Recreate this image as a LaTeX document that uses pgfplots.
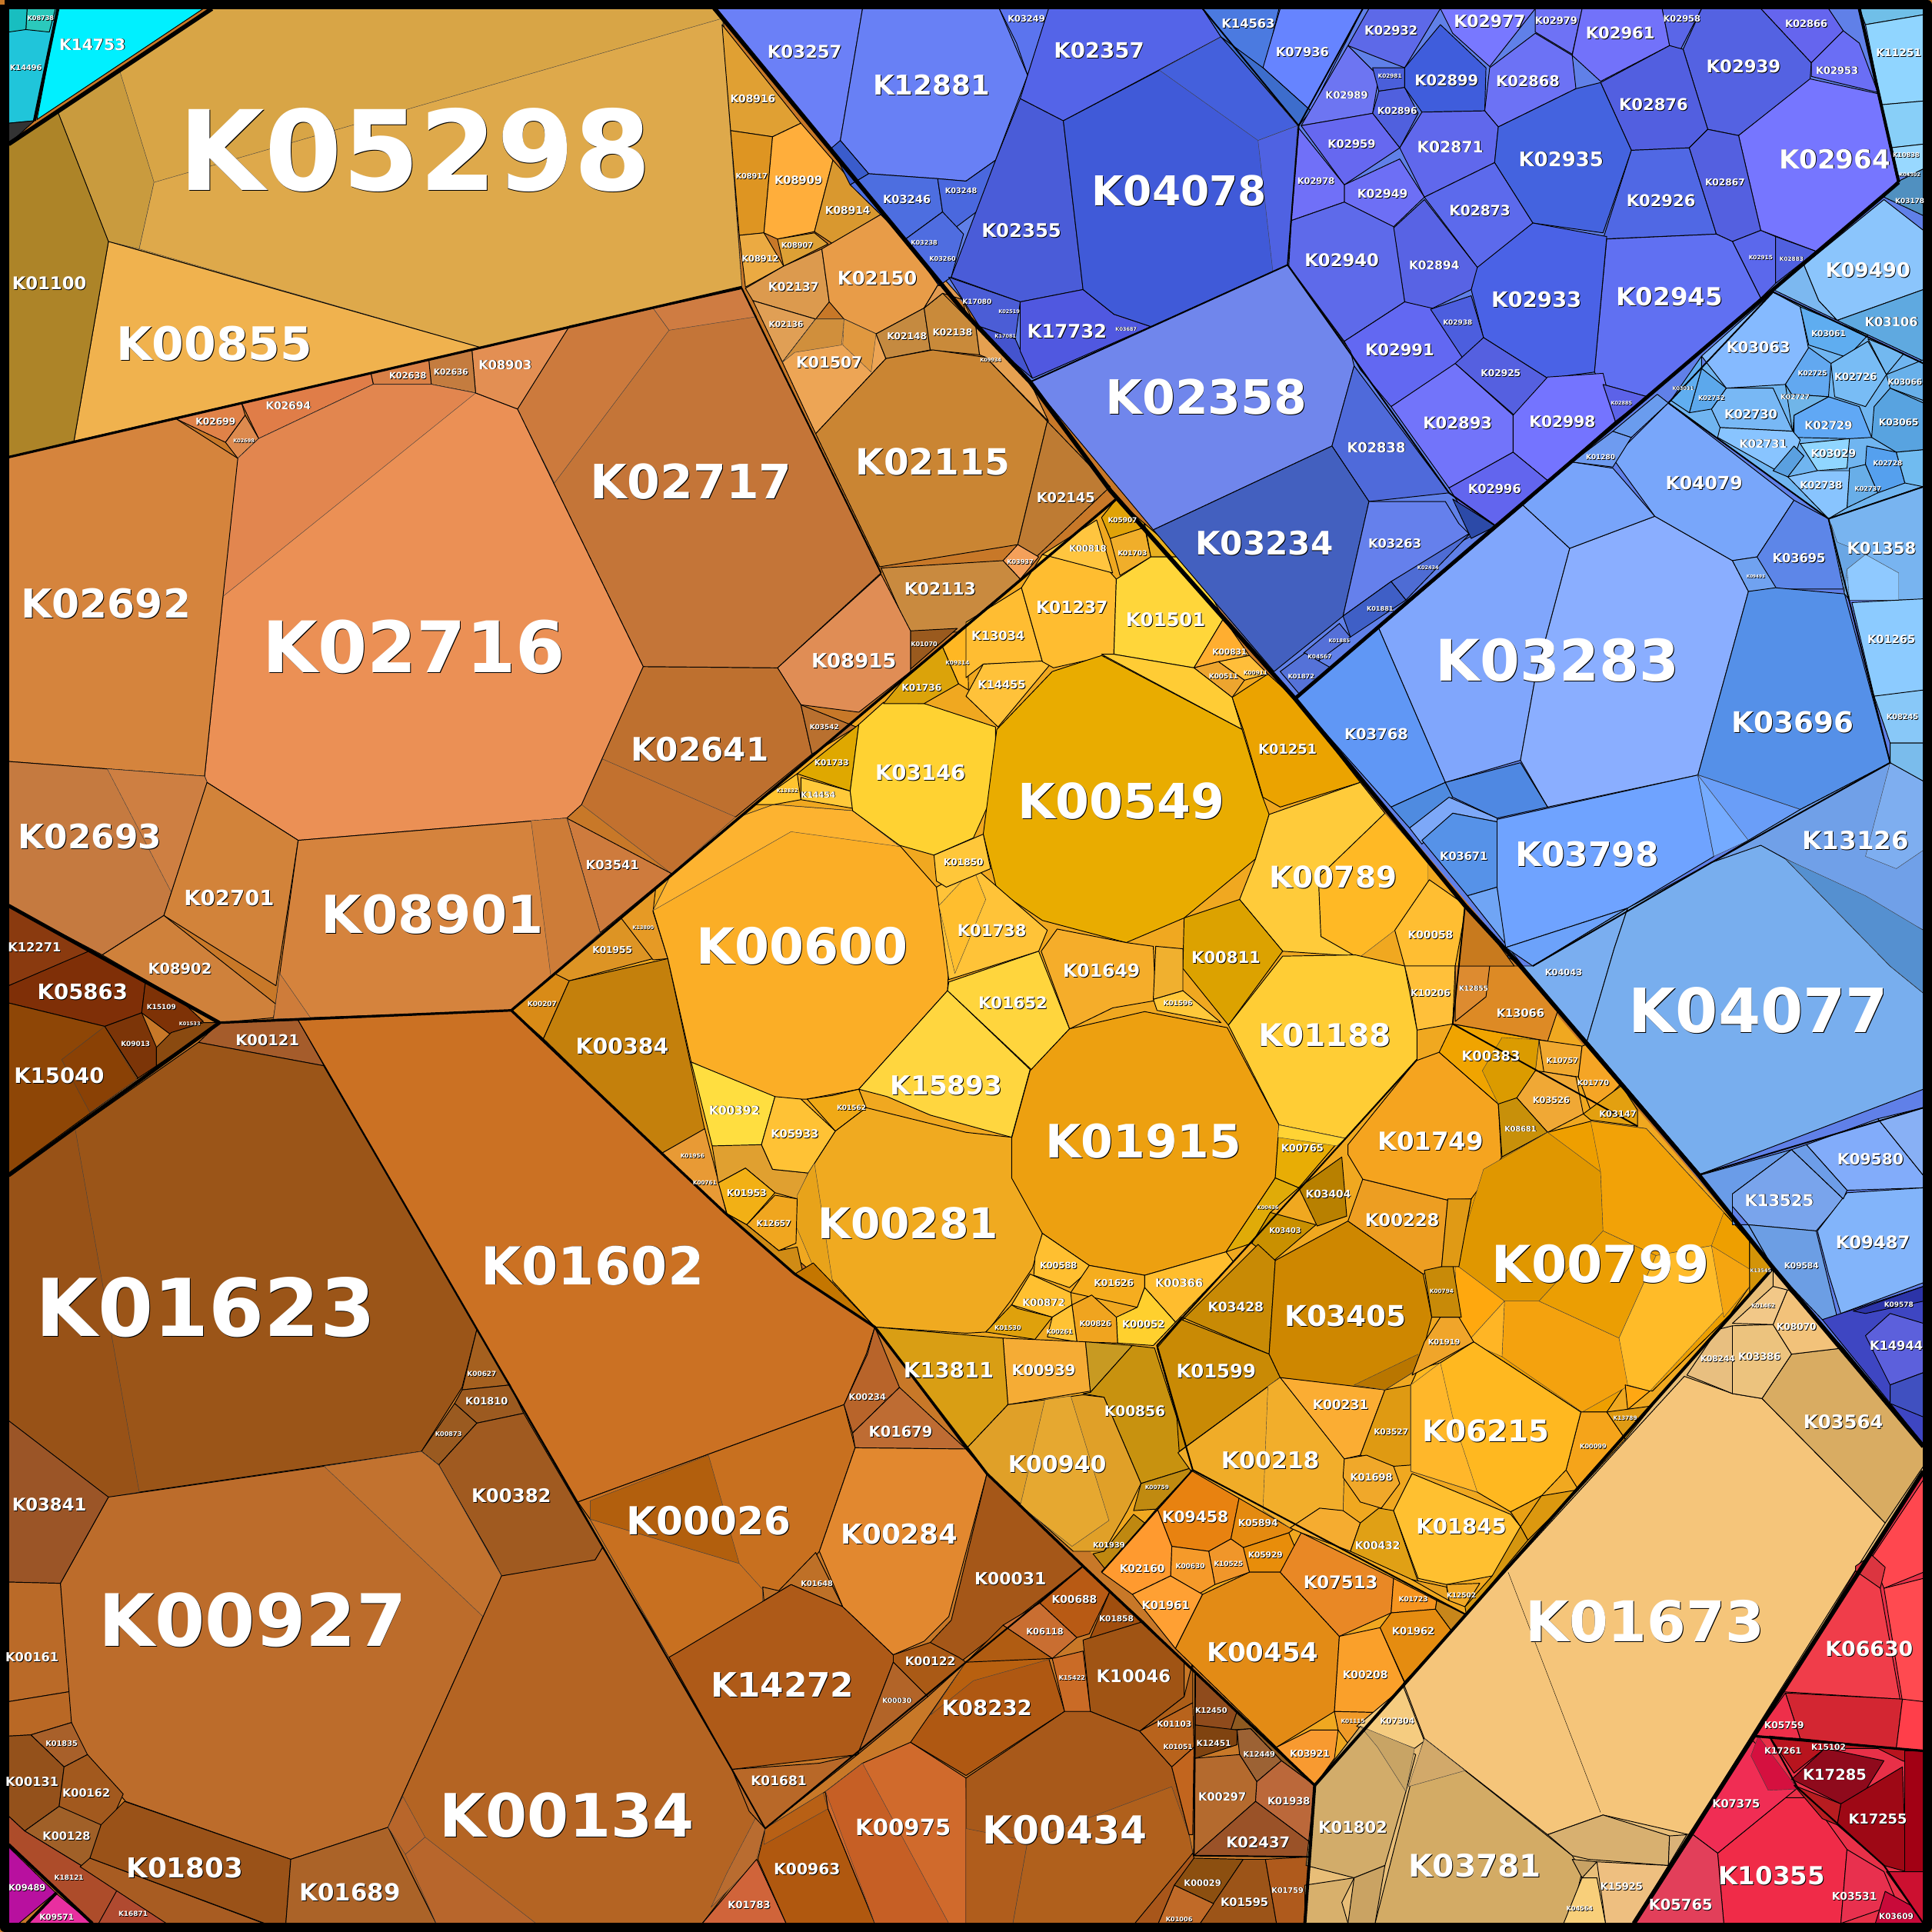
\documentclass[border=0pt]{standalone}
\usepackage{fontspec}
\setmainfont{DejaVu Sans}
\usepackage{pgfplots}
\pgfplotsset{compat=1.18}
\newcount\cn
\newcommand\C[2]{\global\advance\cn by 1\relax\xglobal\definecolor{c\the\cn}{HTML}{#1}\edef\x{\noexpand\addplot[fill=c\the\cn,draw=black,line width=.6pt,line join=round,mark=none]}\x coordinates {#2} -- cycle;}
\newcommand\Sb[2]{\global\advance\cn by 1\relax\xglobal\definecolor{c\the\cn}{HTML}{#1}\edef\x{\noexpand\addplot[fill=c\the\cn,draw=black!75,line width=.25pt,line join=round,mark=none]}\x coordinates {#2} -- cycle;}
\newcommand\B[2]{\global\advance\cn by 1\relax\xglobal\definecolor{c\the\cn}{HTML}{#1}\edef\x{\noexpand\addplot[fill=c\the\cn,draw=none,mark=none]}\x coordinates {#2} -- cycle;}
\newcommand\Ln[2]{\addplot[draw=black,line width=#1,line join=round,mark=none] coordinates {#2};}
\newcommand\T[4]{\node[black,inner sep=0pt,font=\fontsize{\fpeval{#3*1.012}}{#3}\selectfont\bfseries,xshift=.55pt,yshift=-.55pt] at (axis cs:#1,#2) {#4};\node[white,inner sep=0pt,font=\fontsize{\fpeval{#3*1.012}}{#3}\selectfont\bfseries] at (axis cs:#1,#2) {#4};}
\begin{document}
\begin{tikzpicture}
\begin{axis}[scale only axis,width=1568pt,height=1568pt,xmin=0,xmax=1568,ymin=0,ymax=1568,y dir=reverse,hide axis,clip=true]
% bases
\B{C87828}{(0,0) (1568,0) (1568,1568) (0,1568)}
\B{6080E8}{(580,7) (1561,7) (1561,1174) (1439,1029) (1234,784) (1051,567) (836,310)}
\B{F0A820}{(415,820) (906,405) (1439,1029) (1067,1449) (710,1077)}
\B{E8BE78}{(1439,1029) (1561,1174) (1561,1194) (1326,1561) (1059,1561) (1067,1449)}
\B{E83048}{(1561,1194) (1561,1561) (1326,1561)}
% top left
\C{D8A546}{(172,7) (578,7) (587,15) (602,233) (390,282) (88,196) (47,91)}
\Sb{C99B3E}{(47,91) (97,57) (125,148) (113,202) (88,196)}
\Sb{DEA94B}{(125,148) (586,15) (602,233) (390,282) (113,202)}
\C{F0B24E}{(88,196) (390,282) (60,358)}
\C{AD8428}{(7,117) (47,91) (88,196) (60,358) (7,371)}
\C{00F0FF}{(47,7) (165,7) (30,97)}
\C{20C5DA}{(7,7) (47,7) (28,98) (7,100)}
\C{2BC9BC}{(22,7) (45,7) (40,26) (21,24)}
\C{18BEC0}{(7,7) (22,7) (21,24) (7,26)}
\C{333333}{(7,100) (28,98) (7,117)}
% K089 strip
\C{E0A033}{(586,20) (593,106) (627,111) (650,100)}
\C{DE9522}{(593,106) (627,111) (620,189) (600,191)}
\C{FFAE3B}{(627,111) (650,100) (676,130) (661,188) (631,194) (620,189)}
\C{D9982F}{(676,130) (715,174) (676,198) (661,188)}
\C{EBAA42}{(600,191) (620,189) (636,216) (605,233)}
\C{DDA035}{(631,194) (661,189) (672,198) (636,216)}
\C{DC9A4E}{(605,234) (636,216) (667,202) (673,245) (662,259) (611,244)}
\C{E89C48}{(667,202) (715,174) (765,225) (750,250) (711,271) (685,259) (673,245)}
\C{E09F55}{(611,244) (662,259) (635,294)}
\C{EDA555}{(635,294) (662,259) (685,259) (711,271) (719,291) (662,352)}
\Sb{D08F3C}{(635,294) (662,259) (685,259) (683,280) (645,286)}
\Sb{E0983F}{(685,259) (711,271) (707,302) (684,280)}
\C{C58A40}{(711,271) (750,250) (755,284) (719,291)}
\C{C98A3A}{(750,250) (765,238) (792,265) (795,288) (755,284)}
\C{E09A50}{(750,250) (765,225) (781,243) (765,238)}
\C{E5A050}{(781,243) (784,255) (836,310) (851,342) (800,290) (795,288) (792,265)}
\C{CA8533}{(662,352) (719,291) (757,284) (800,290) (850,342) (826,442) (714,460)}
\C{BE7B33}{(850,342) (826,442) (841,452) (901,395)}
\C{F4A05A}{(814,455) (826,442) (843,452) (828,470)}
\C{C98A3F}{(715,461) (814,455) (828,470) (777,513) (738,513)}
\C{9A5A1E}{(739,512) (777,510) (739,543)}
\C{E08D55}{(715,466) (739,512) (739,545) (697,578) (650,572) (631,542)}
\C{BE702F}{(522,541) (631,542) (650,572) (659,612) (597,663) (472,647)}
\Sb{C2712F}{(489,616) (597,663) (545,709) (472,653)}
\C{B9702F}{(650,572) (695,590) (659,612)}
\C{C47538}{(462,265) (602,234) (715,465) (631,542) (522,541) (420,332)}
\Sb{CC7A3D}{(462,265) (530,250) (543,268) (450,392) (420,332)}
\Sb{CF7C42}{(530,250) (602,234) (614,257) (543,268)}
\C{E38F53}{(383,284) (462,265) (420,332) (386,319)}
\C{C47C3F}{(348,292) (383,284) (386,319) (350,312)}
\C{D98046}{(301,303) (348,292) (350,312) (303,312)}
\C{E07D48}{(196,327) (301,303) (303,312) (210,356)}
\C{E08248}{(143,340) (196,327) (199,337) (183,359)}
\C{DD8A4E}{(199,337) (210,356) (193,372) (183,359)}
\C{EB9055}{(193,372) (210,356) (303,312) (350,312) (386,319) (420,332) (522,541) (472,653) (460,664) (242,682) (168,635) (166,630) (181,484)}
\Sb{E2864F}{(193,372) (210,356) (303,312) (350,312) (386,319) (181,484)}
\C{D5843D}{(7,371) (143,340) (193,372) (181,484) (166,630) (7,618)}
\C{C57A40}{(7,618) (166,630) (168,635) (133,743) (83,775) (7,735)}
\Sb{CE7F42}{(87,624) (166,630) (168,635) (139,724)}
\C{D2833A}{(168,635) (242,682) (224,800) (133,743)}
\C{CF813B}{(83,775) (133,743) (224,815) (222,826) (178,830)}
\C{CE7B3D}{(460,664) (545,709) (487,757)}
\C{D5833D}{(242,682) (460,664) (487,757) (415,820) (222,827)}
\Sb{CD7C38}{(431,666) (460,664) (487,757) (447,792)}
\Sb{CE7C3A}{(222,827) (227,790) (252,826)}
% dark triangle
\C{8A3A0F}{(7,735) (75,772) (7,800)}
\C{7F2F07}{(7,800) (72,772) (118,797) (115,822) (85,833) (7,814)}
\C{8E4606}{(7,814) (85,833) (112,875) (7,952)}
\Sb{8A4105}{(85,833) (111,876) (73,903) (50,860)}
\C{7E3206}{(118,797) (150,815) (165,829) (139,840) (115,822)}
\C{7C3508}{(85,833) (115,822) (127,850) (127,865) (112,875)}
\C{8A4A10}{(127,850) (139,838) (165,830) (178,830) (127,865)}
% big browns
\C{A55C2B}{(161,846) (178,830) (242,828) (263,865)}
\C{CB7123}{(242,828) (415,820) (710,1077) (703,1099) (685,1140) (469,1219)}
\C{9B5518}{(7,954) (161,846) (263,865) (387,1079) (375,1126) (342,1178) (113,1211) (88,1215) (7,1153)}
\Sb{985217}{(7,954) (61,916) (113,1211) (88,1215) (7,1153)}
\C{A5601F}{(387,1079) (414,1124) (375,1128)}
\C{9C5A20}{(375,1128) (414,1124) (425,1147) (387,1155) (369,1139)}
\C{9A5A20}{(342,1178) (369,1139) (387,1155) (356,1189)}
\C{A05A20}{(356,1189) (387,1155) (425,1147) (489,1256) (483,1266) (440,1274) (407,1279) (398,1262)}
\C{BC6C2B}{(88,1215) (263,1190) (342,1178) (356,1189) (407,1279) (315,1483) (236,1509) (102,1462) (70,1424) (57,1396) (49,1285)}
\Sb{C2722F}{(263,1190) (342,1178) (356,1189) (407,1279) (392,1312)}
\C{9B5527}{(7,1153) (88,1215) (49,1285) (7,1284)}
\C{BA6A28}{(7,1284) (49,1285) (56,1373) (7,1381)}
\C{B96825}{(7,1381) (56,1373) (58,1398) (25,1408) (7,1409)}
\C{A8602A}{(25,1408) (58,1398) (71,1424) (52,1434)}
\C{94511B}{(7,1409) (25,1408) (52,1434) (48,1466) (20,1486) (7,1474)}
\C{A2591E}{(52,1434) (71,1424) (100,1456) (82,1497) (48,1466)}
\C{A06028}{(48,1466) (82,1481) (74,1519) (20,1486)}
\C{AD4C2A}{(7,1474) (20,1486) (74,1519) (135,1561) (75,1561) (7,1497)}
\C{B04A30}{(95,1534) (140,1561) (80,1561)}
\C{A85C22}{(73,1508) (214,1561) (135,1561) (65,1515)}
\C{9A5218}{(101,1462) (236,1509) (232,1561) (215,1561) (73,1508) (82,1481)}
\C{B8109F}{(7,1499) (45,1536) (7,1568)}
\C{E82FA0}{(46,1537) (75,1561) (22,1561)}
\C{AB6328}{(236,1509) (315,1483) (354,1561) (232,1561)}
\C{B46423}{(407,1279) (483,1266) (489,1256) (495,1266) (543,1345) (594,1436) (614,1474) (621,1484) (614,1504) (570,1561) (354,1561) (315,1483)}
\Sb{B8662B}{(315,1483) (327,1458) (345,1491) (329,1505)}
\Sb{B8662C}{(329,1505) (345,1491) (435,1561) (354,1561)}
\Sb{B96C30}{(614,1474) (621,1484) (613,1512) (577,1548) (590,1520)}
\C{D0643A}{(614,1509) (638,1561) (570,1561)}
\C{B0580F}{(621,1484) (670,1454) (672,1468) (710,1561) (638,1561) (615,1509)}
\Sb{B86015}{(621,1484) (668,1455) (672,1468) (620,1497)}
\C{C8701F}{(469,1219) (685,1140) (694,1175) (665,1259) (644,1286) (543,1345) (479,1233)}
\Sb{B25F0D}{(479,1218) (575,1181) (600,1269) (479,1233)}
\Sb{C87020}{(479,1233) (600,1269) (619,1290) (619,1315) (543,1345)}
\C{BE7027}{(619,1288) (632,1291) (662,1260) (684,1304) (642,1286) (620,1299)}
\C{AE5A18}{(550,1341) (642,1286) (684,1304) (725,1343) (725,1349) (696,1424) (594,1436) (543,1345)}
\C{B8642A}{(710,1077) (704,1099) (685,1140) (692,1163) (730,1126)}
\C{BE6C33}{(692,1163) (730,1126) (784,1176) (694,1175)}
\C{E2882F}{(694,1175) (784,1176) (801,1196) (770,1312) (750,1332) (725,1343) (684,1304) (665,1259)}
\C{A55718}{(801,1196) (879,1271) (778,1350) (755,1333) (772,1315)}
\C{AA5A16}{(725,1343) (725,1349) (753,1377) (784,1349) (778,1345) (755,1333)}
\C{B26428}{(725,1349) (753,1377) (696,1424)}
\C{B86828}{(594,1436) (665,1431) (696,1424) (621,1484) (608,1470)}
\C{D06A2C}{(670,1454) (700,1431) (739,1414) (784,1443) (786,1561) (710,1561) (672,1468)}
\Sb{C65F25}{(670,1454) (700,1431) (770,1561) (710,1561)}
\C{AF5812}{(739,1414) (784,1349) (850,1342) (864,1389) (784,1441)}
\Sb{B8600F}{(755,1392) (784,1349) (850,1342) (854,1346) (790,1364)}
\C{C96E31}{(814,1319) (844,1301) (874,1329) (854,1346)}
\C{B05C12}{(784,1349) (814,1319) (854,1346)}
\C{B85A14}{(844,1301) (879,1271) (901,1291) (884,1326) (874,1329)}
\C{A04E0E}{(901,1291) (928,1316) (884,1331)}
\C{CA6B26}{(854,1346) (879,1340) (885,1389) (864,1389)}
\C{A05414}{(879,1331) (928,1316) (961,1349) (961,1377) (925,1405) (885,1389)}
\C{A8591A}{(864,1389) (885,1389) (925,1405) (951,1434) (965,1489) (968,1504) (921,1561) (784,1561) (784,1443)}
\Sb{B0601C}{(834,1494) (951,1450) (965,1489) (968,1504) (921,1561) (822,1561)}
\Sb{B05D1C}{(784,1484) (834,1494) (822,1561) (784,1561)}
\C{AD5E18}{(925,1405) (961,1377) (968,1349) (968,1382)}
\C{B8631C}{(925,1405) (968,1382) (969,1418) (951,1434)}
\C{C2651E}{(951,1434) (969,1418) (968,1489) (965,1489)}
\C{8F4B1C}{(970,1358) (1004,1389) (999,1404) (970,1400)}
\C{8F5A20}{(1004,1389) (1067,1449) (1040,1429) (1015,1403) (999,1404)}
\C{7F4310}{(970,1400) (1004,1404) (1004,1416) (970,1427)}
\C{9C6234}{(1004,1404) (1015,1403) (1040,1429) (1020,1446) (1006,1424)}
\C{B46A2E}{(970,1427) (1006,1424) (1020,1446) (1019,1462) (969,1506)}
\C{BB683A}{(1020,1446) (1040,1429) (1067,1449) (1063,1495) (1019,1462)}
\C{9A5228}{(969,1506) (1019,1462) (1063,1495) (1062,1507)}
\C{8C4F10}{(968,1508) (1009,1509) (985,1545) (953,1530)}
\C{9C5418}{(1009,1509) (1027,1509) (1036,1561) (974,1561) (984,1546)}
\C{AF5A1C}{(1027,1509) (1062,1507) (1059,1561) (1036,1561)}
\C{C06A28}{(953,1530) (985,1545) (974,1561) (940,1561)}
\C{A8561A}{(921,1561) (968,1504) (969,1508) (953,1530) (940,1561)}
% gold group
\C{D98B17}{(415,820) (450,790) (462,796) (441,843)}
\C{DD9424}{(450,790) (507,742) (520,755) (530,778) (462,796)}
\C{E69A25}{(504,745) (532,722) (530,740) (542,778) (530,779)}
\C{C4800C}{(441,843) (462,796) (542,778) (572,917) (537,936)}
\C{E89A35}{(537,936) (572,916) (590,986) (555,953)}
\C{FBAE26}{(530,739) (545,709) (600,663) (628,653) (692,658) (730,686) (760,720) (770,784) (769,804) (697,884) (655,892) (629,892) (561,862) (542,778)}
\Sb{FDB330}{(530,739) (545,709) (600,663) (628,653) (692,658) (730,687) (642,675)}
\C{FFC93A}{(650,631) (690,642) (692,656) (650,649)}
\C{FFC42F}{(612,653) (647,628) (650,649) (628,653)}
\C{DFA800}{(647,628) (697,588) (690,642)}
\C{FFD232}{(690,642) (697,588) (717,570) (750,571) (808,590) (808,640) (790,680) (758,694) (730,686) (692,658)}
\C{DBA30A}{(717,571) (739,545) (765,525) (778,555) (750,571)}
\C{FFB723}{(765,525) (785,508) (786,560) (778,555)}
\C{FFBD32}{(784,505) (829,477) (846,537) (798,539) (784,550)}
\C{FFC23A}{(798,539) (855,536) (810,590) (784,565)}
\C{FFBD30}{(829,477) (846,450) (897,460) (906,470) (904,531) (855,542) (846,537)}
\C{FFC53F}{(846,450) (890,422) (903,465)}
\C{E0A308}{(894,420) (906,405) (929,425) (919,437) (901,437)}
\C{F0AE2A}{(901,437) (929,428) (934,452) (909,467)}
\C{E8B020}{(934,452) (929,425) (960,452)}
\C{FFD63A}{(906,470) (934,452) (966,452) (993,502) (969,542) (904,531)}
\C{FFAE30}{(993,502) (1014,532) (989,537) (969,542)}
\C{EDA52F}{(969,542) (989,537) (1010,552) (1000,566)}
\C{FFBE3A}{(989,537) (1014,532) (1029,547) (1010,552)}
\C{EBA300}{(1000,566) (1029,547) (1051,567) (1104,635) (1039,655) (1025,647) (1009,592)}
\C{FFCC35}{(894,531) (904,531) (969,542) (1000,566) (1008,592)}
\C{E9AC00}{(894,532) (1008,592) (1024,645) (1030,661) (1019,697) (961,745) (914,765) (846,747) (809,722) (798,677) (809,592) (854,545)}
\Sb{FFB925}{(1070,712) (1124,660) (1159,700) (1159,716) (1132,755) (1102,778) (1072,760)}
\C{FFCB3A}{(1030,661) (1104,635) (1124,660) (1070,712) (1072,760) (1100,776) (1041,772) (1006,730) (1019,697)}
\C{FFBE32}{(1132,755) (1160,714) (1190,735) (1181,784) (1140,784)}
\C{FFC03A}{(1140,784) (1181,784) (1179,831) (1150,836) (1145,804)}
\C{DCA200}{(961,745) (1006,730) (1041,772) (997,832) (960,786)}
\C{FFCD35}{(997,832) (1041,776) (1100,775) (1140,784) (1150,836) (1150,860) (1092,924) (1038,913)}
\C{FFC338}{(760,720) (790,703) (850,755) (843,772) (770,795)}
\Sb{FFBE2E}{(762,735) (790,705) (800,730) (775,790)}
\C{FFC73A}{(758,694) (798,677) (804,705) (768,720) (760,715)}
\C{F5AD2A}{(845,772) (858,754) (914,765) (936,768) (938,812) (903,818) (868,835)}
\C{FFD63F}{(697,884) (769,804) (836,868) (821,923) (755,905) (720,890)}
\C{FFD53D}{(769,804) (770,797) (843,772) (868,835) (837,868)}
\C{FFDE40}{(561,862) (629,890) (618,929) (600,933) (578,930)}
\C{E0A030}{(578,930) (618,929) (627,949) (656,952) (647,973) (629,968) (605,948) (583,960)}
\C{FFC235}{(629,890) (650,892) (678,918) (656,952) (627,949) (618,929)}
\C{F0A916}{(655,892) (676,889) (697,884) (703,899) (678,918)}
\C{F0AA20}{(703,899) (784,919) (821,923) (846,1001) (838,1029) (820,1056) (801,1081) (784,1082) (710,1077) (676,1040) (646,980) (656,952) (678,918)}
\Sb{E8A31A}{(656,952) (661,944) (677,1049) (660,1028) (646,995) (647,970)}
\C{F2B015}{(583,960) (605,948) (629,968) (606,994) (590,985)}
\C{F0A61F}{(606,994) (629,970) (647,973) (646,1009) (632,1015)}
\C{D08B15}{(588,984) (606,994) (632,1015) (647,1012) (651,1030) (676,1050) (710,1077) (645,1034)}
\C{C47600}{(645,1034) (660,1025) (710,1077)}
\C{EDA010}{(821,924) (836,869) (868,835) (929,821) (996,834) (1038,913) (1035,956) (995,1016) (929,1035) (884,1027) (846,1001) (821,956)}
\C{FFC83A}{(936,811) (960,804) (991,830) (939,820)}
\C{F0B02F}{(938,768) (960,770) (960,804) (936,811)}
\C{E8AD05}{(1038,913) (1092,924) (1084,929) (1054,964) (1035,956)}
\Sb{FFD334}{(1038,913) (1092,924) (1085,930) (1037,923)}
\C{E0AB08}{(1035,956) (1054,964) (1031,984) (1016,1009) (995,1016)}
\C{C99000}{(1016,1009) (1031,984) (1068,994) (1034,1023)}
\C{FFBF30}{(846,1001) (884,1027) (885,1030) (868,1045) (839,1035) (840,1020)}
\C{F5AD1F}{(884,1027) (929,1035) (929,1045) (923,1061) (869,1049)}
\C{FFBD2E}{(929,1035) (995,1016) (1001,1024) (954,1073) (929,1045)}
\C{FFD02E}{(923,1061) (929,1045) (954,1073) (936,1092) (907,1090) (906,1069)}
\C{FFC030}{(836,1034) (869,1049) (870,1059) (854,1069) (821,1059)}
\C{F0A41F}{(870,1059) (886,1051) (906,1069) (907,1090) (874,1089)}
\C{FFC234}{(854,1069) (870,1059) (874,1089) (850,1085)}
\C{DFA10C}{(821,1059) (800,1081) (840,1087) (854,1069) (826,1062)}
\C{F5AC35}{(814,1086) (881,1089) (885,1129) (818,1140)}
\C{C89A22}{(881,1089) (919,1092) (885,1130)}
\C{D99E14}{(710,1077) (814,1086) (818,1140) (784,1176)}
\C{C8920F}{(919,1092) (937,1094) (968,1191) (926,1204) (896,1134) (879,1131) (885,1130)}
\C{E0A028}{(818,1140) (879,1132) (896,1134) (926,1204) (915,1226) (896,1259) (871,1259) (801,1196) (784,1176)}
\Sb{E6A830}{(848,1136) (869,1133) (900,1234) (870,1255) (828,1222)}
\C{C08A10}{(926,1204) (968,1191) (950,1224) (920,1226)}
\C{BF8810}{(896,1259) (920,1229) (929,1236) (899,1276) (887,1261)}
\C{E88210}{(968,1193) (1006,1214) (999,1249) (981,1259) (951,1255) (939,1224)}
\C{E48A10}{(1006,1214) (1051,1240) (1046,1244) (1009,1256) (999,1249)}
\C{E88D0A}{(1009,1256) (1046,1244) (1051,1256) (1039,1276) (1014,1276)}
\C{F0962A}{(999,1249) (1009,1256) (1014,1276) (986,1286) (981,1259)}
\C{F59A2A}{(951,1255) (981,1259) (986,1286) (974,1293) (950,1279)}
\C{FF9A2F}{(929,1236) (939,1224) (951,1255) (950,1279) (919,1294) (894,1276)}
\C{FFA033}{(919,1294) (950,1279) (976,1294) (954,1338)}
\C{E38B15}{(954,1338) (976,1294) (1014,1276) (1039,1276) (1087,1328) (1083,1389) (1036,1418)}
\C{E98825}{(1039,1276) (1056,1244) (1131,1281) (1129,1309) (1087,1328)}
\C{F5941F}{(1131,1281) (1166,1299) (1165,1306) (1129,1309)}
\C{C8861A}{(1166,1299) (1189,1310) (1179,1325) (1165,1306)}
\C{E58C10}{(1129,1309) (1165,1306) (1179,1325) (1140,1365) (1120,1321)}
\C{FAA02A}{(1087,1328) (1120,1321) (1140,1366) (1124,1390) (1083,1389)}
\C{F09A28}{(1083,1389) (1124,1390) (1094,1415) (1086,1404)}
\C{F89A30}{(1036,1418) (1064,1404) (1086,1404) (1083,1427) (1067,1449)}
\C{C88A05}{(939,1092) (1021,1010) (1035,1023) (1030,1099) (959,1069)}
\C{B88000}{(1054,964) (1089,939) (1093,987) (1069,995)}
\C{C98A05}{(939,1094) (959,1071) (1030,1099) (1039,1118) (957,1178) (955,1149)}
\C{F0AC28}{(966,1193) (956,1179) (1039,1118) (1091,1184) (1090,1226) (1071,1224) (1047,1240)}
\Sb{F2AE2B}{(1029,1125) (1039,1118) (1091,1184) (1090,1226) (1071,1224) (1047,1240) (1025,1226)}
\C{FBAD33}{(1039,1118) (1109,1125) (1124,1128) (1104,1181) (1091,1184)}
\C{DF9A12}{(1124,1128) (1145,1124) (1145,1189) (1131,1190) (1104,1181)}
\C{CE8700}{(1035,1023) (1094,991) (1155,1034) (1162,1069) (1151,1111) (1124,1128) (1039,1118) (1030,1099)}
\Sb{B97600}{(1099,1124) (1151,1099) (1151,1111) (1124,1128)}
\C{ED9E22}{(1094,991) (1106,957) (1175,974) (1170,1028) (1155,1034)}
\C{F5A41F}{(1106,957) (1094,937) (1094,929) (1149,861) (1168,854) (1216,896) (1219,949) (1194,973) (1175,974)}
\C{F0A400}{(1168,854) (1179,831) (1249,844) (1246,869) (1231,891) (1216,896)}
\Sb{DB9B00}{(1219,842) (1249,844) (1246,869) (1231,891) (1216,896) (1203,869)}
\C{DD8A25}{(1179,831) (1184,784) (1234,784) (1266,815) (1256,845)}
\C{DD8B30}{(1181,784) (1209,784) (1206,809) (1181,829)}
\C{C87A1E}{(1189,735) (1204,750) (1229,784) (1184,784)}
\C{F0A82F}{(1249,844) (1284,849) (1281,874) (1253,870)}
\C{F5A525}{(1284,849) (1292,846) (1316,879) (1292,904) (1281,874)}
\C{F0A835}{(1246,869) (1254,870) (1279,874) (1285,904) (1256,919) (1231,891)}
\C{C8900A}{(1216,896) (1231,891) (1256,919) (1219,939)}
\C{E3A010}{(1285,904) (1316,881) (1329,901) (1329,914) (1291,909)}
\C{EE9F00}{(1194,973) (1219,939) (1256,919) (1291,910) (1336,916) (1399,984) (1420,1007) (1420,1044) (1404,1067) (1341,1129) (1319,1124) (1304,1146) (1283,1146) (1196,1089) (1181,1064) (1184,1029)}
\Sb{E09700}{(1181,1024) (1204,949) (1256,919) (1299,951) (1301,999) (1249,1056) (1221,1056) (1181,1026)}
\Sb{F2A207}{(1291,910) (1336,916) (1399,984) (1389,1011) (1344,1019) (1301,999) (1299,951)}
\Sb{EB9E03}{(1301,999) (1344,1019) (1314,1086) (1249,1056)}
\Sb{FFA80E}{(1181,1026) (1221,1056) (1191,1089) (1182,1066)}
\Sb{F4A20E}{(1221,1056) (1249,1056) (1314,1086) (1323,1124) (1284,1146) (1219,1101)}
\Sb{FFB525}{(1191,1089) (1221,1056) (1219,1101)}
\Sb{FFBB28}{(1344,1019) (1389,1011) (1404,1059) (1339,1129) (1321,1124) (1314,1086)}
\Sb{F5A510}{(1389,1011) (1420,1030) (1420,1044) (1399,1069)}
\C{D39408}{(1420,1007) (1439,1029) (1420,1051)}
\C{FFA712}{(1319,1124) (1339,1129) (1321,1144)}
\C{DF9A13}{(1304,1146) (1341,1141) (1319,1168)}
\C{F5A41A}{(1283,1146) (1304,1146) (1319,1168) (1281,1209) (1271,1193)}
\C{FFB820}{(1145,1124) (1151,1111) (1169,1106) (1196,1089) (1283,1146) (1271,1193) (1251,1214) (1226,1227) (1199,1211) (1145,1194)}
\Sb{FFB72A}{(1145,1124) (1169,1106) (1179,1150) (1199,1211) (1145,1194)}
\C{F0A52A}{(1169,1069) (1184,1069) (1196,1089) (1169,1104) (1146,1116) (1156,1089)}
\C{C88A08}{(1156,1031) (1179,1026) (1186,1069) (1162,1069)}
\C{E09A15}{(1175,973) (1194,973) (1184,1028) (1170,1028)}
\C{F0A82A}{(1091,1184) (1109,1181) (1131,1190) (1136,1204) (1121,1224) (1104,1219) (1090,1199)}
\C{F5AC30}{(1071,1224) (1090,1226) (1104,1236) (1096,1259) (1056,1244) (1047,1240)}
\C{E0A015}{(1104,1236) (1119,1224) (1131,1226) (1151,1284) (1146,1282) (1096,1259)}
\C{FFC030}{(1131,1226) (1146,1196) (1226,1229) (1234,1239) (1231,1256) (1211,1279) (1174,1286) (1151,1281)}
\C{F0A825}{(1174,1286) (1201,1285) (1189,1304) (1176,1299)}
\C{E8A020}{(1146,1282) (1174,1288) (1176,1299)}
\C{E8A015}{(1226,1227) (1251,1214) (1256,1222) (1234,1239)}
\C{DC980F}{(1251,1214) (1281,1209) (1240,1250) (1234,1239)}
\C{D5960F}{(1211,1279) (1234,1239) (1240,1250) (1190,1310) (1189,1304)}
% tan group
\C{F5C57A}{(1139,1366) (1367,1117) (1406,1131) (1430,1135) (1530,1236) (1371,1489) (1301,1473) (1256,1489) (1156,1411)}
\Ln{.25pt}{(1224,1276) (1299,1471)}
\C{F5CC80}{(1101,1401) (1139,1369) (1156,1413) (1148,1419)}
\C{D2AC6A}{(1067,1449) (1104,1401) (1149,1424) (1141,1454) (1124,1514) (1099,1524) (1060,1514)}
\Sb{C8A465}{(1104,1401) (1148,1419) (1141,1454) (1118,1418)}
\C{D3AB65}{(1156,1411) (1189,1437) (1276,1506) (1284,1519) (1274,1561) (1116,1561) (1144,1451)}
\Sb{D2A96A}{(1156,1411) (1189,1437) (1143,1450)}
\C{D8B06C}{(1059,1530) (1099,1524) (1089,1544) (1094,1561) (1059,1561)}
\C{CAA363}{(1099,1524) (1124,1514) (1116,1561) (1094,1561)}
\C{D8B070}{(1256,1489) (1301,1473) (1355,1490) (1354,1514) (1289,1509) (1276,1506)}
\C{DAB278}{(1355,1490) (1369,1489) (1354,1514)}
\C{EEBF80}{(1296,1511) (1354,1514) (1325,1561) (1303,1561)}
\C{F8CF7A}{(1284,1524) (1296,1524) (1303,1561) (1269,1561)}
\C{C8A264}{(1276,1509) (1296,1511) (1284,1524)}
\C{D9AC62}{(1430,1135) (1454,1099) (1496,1094) (1561,1174) (1561,1190) (1530,1236)}
\C{ECC37E}{(1406,1076) (1439,1075) (1454,1099) (1430,1135) (1406,1131)}
\C{E8BF80}{(1369,1116) (1394,1079) (1406,1076) (1406,1131)}
\C{F2C27A}{(1439,1075) (1451,1046) (1496,1094) (1454,1099)}
\C{F2C888}{(1406,1074) (1439,1044) (1451,1046) (1439,1075)}
\C{F0C27E}{(1439,1029) (1459,1049) (1439,1044)}
% reds
\C{FF474F}{(1561,1201) (1561,1276) (1529,1289) (1519,1264)}
\C{DB3540}{(1506,1271) (1519,1262) (1530,1272) (1526,1289) (1506,1281)}
\C{F03D4A}{(1447,1373) (1506,1275) (1526,1289) (1542,1379)}
\C{FF4A50}{(1529,1289) (1561,1281) (1561,1381) (1544,1381)}
\C{D32632}{(1449,1374) (1544,1379) (1539,1419) (1461,1411)}
\C{FF3E4A}{(1544,1379) (1561,1381) (1561,1421) (1539,1419)}
\C{EE2F4A}{(1424,1409) (1449,1374) (1461,1411)}
\C{F02B48}{(1394,1504) (1449,1459) (1469,1459) (1499,1501) (1494,1561) (1399,1561)}
\C{F02D54}{(1374,1489) (1421,1411) (1459,1451) (1394,1504)}
\Sb{D5103F}{(1427,1409) (1459,1452) (1435,1453) (1421,1425)}
\C{E23F5A}{(1374,1489) (1394,1504) (1399,1561) (1327,1561)}
\C{E8304E}{(1499,1501) (1529,1519) (1540,1545) (1494,1561)}
\C{C80A3A}{(1530,1535) (1561,1552) (1561,1561) (1522,1561)}
\C{B8141E}{(1436,1409) (1561,1421) (1561,1434) (1544,1429) (1524,1419) (1481,1419) (1456,1439)}
\C{8F0A1C}{(1454,1444) (1481,1419) (1529,1429) (1509,1461) (1494,1464)}
\C{9E0815}{(1494,1464) (1544,1434) (1547,1519) (1529,1514) (1491,1481)}
\C{B71C20}{(1456,1449) (1494,1464) (1491,1481) (1479,1476)}
\C{A20014}{(1546,1421) (1561,1421) (1561,1519) (1546,1519)}
\C{CC1030}{(1531,1519) (1561,1519) (1561,1561)}
% blues
\C{6B80F7}{(580,7) (700,7) (682,114) (675,122)}
\C{6880F5}{(700,7) (811,7) (834,61) (808,130) (784,147) (761,145) (705,141) (682,114)}
\C{5B74EE}{(811,7) (852,7) (834,61) (825,35)}
\C{3A5CCC}{(675,120) (682,114) (705,141) (690,150)}
\C{4D6EE0}{(705,141) (761,145) (765,172) (735,194) (690,150)}
\C{4A68DE}{(761,145) (784,147) (808,130) (795,170) (775,185) (765,172)}
\C{4F6DE0}{(735,194) (765,172) (782,190) (772,225) (762,232)}
\C{4A5CD8}{(772,225) (808,130) (828,80) (863,98) (879,235) (828,245)}
\C{4B5DD6}{(770,225) (828,245) (824,275) (795,265)}
\C{4454CE}{(795,265) (824,275) (838,307) (812,285)}
\C{5058E0}{(828,245) (879,235) (904,255) (934,265) (838,307) (828,285)}
\C{5464E8}{(851,7) (976,7) (991,30) (863,98) (828,80)}
\C{405AD8}{(863,98) (941,57) (991,30) (1054,102) (1045,215) (934,265) (904,255) (879,235)}
\Sb{4460DC}{(941,57) (991,30) (1053,102) (1021,114)}
\Sb{4F62E2}{(1021,114) (1053,102) (1045,215) (1033,220)}
\C{4B7AE0}{(976,7) (1038,7) (1024,65) (991,30)}
\C{6684FF}{(1039,7) (1106,7) (1064,90) (1025,55)}
\C{3D6DCC}{(991,30) (1025,55) (1064,90) (1054,102)}
\C{5D69E8}{(1111,7) (1169,7) (1140,55) (1114,45) (1094,37)}
\C{6D75F2}{(1094,37) (1119,62) (1114,92) (1056,102)}
\C{4A5FDA}{(1114,55) (1140,55) (1140,71) (1119,74)}
\C{5060DE}{(1119,74) (1140,71) (1151,92) (1136,120) (1114,92)}
\C{3F5DDC}{(1140,55) (1169,20) (1206,55) (1205,90) (1154,91) (1140,71)}
\C{7878FF}{(1169,7) (1246,7) (1209,54) (1179,27)}
\C{6E72F5}{(1246,7) (1284,7) (1276,44) (1246,26)}
\C{6C72F5}{(1209,55) (1246,27) (1276,45) (1279,72) (1216,103) (1205,90)}
\C{7272FA}{(1284,7) (1349,7) (1355,37) (1299,66) (1276,45)}
\C{5A66E8}{(1349,7) (1381,7) (1364,40) (1355,37)}
\C{6565EE}{(1429,7) (1484,7) (1496,25) (1470,51)}
\C{5462E2}{(1381,7) (1429,7) (1470,51) (1469,65) (1411,110) (1386,105) (1366,40)}
\C{6A6EF5}{(1496,25) (1509,35) (1524,75) (1470,62) (1470,51)}
\C{7676FF}{(1469,64) (1524,76) (1541,148) (1474,204) (1429,187) (1411,110)}
\C{525FE0}{(1299,67) (1355,37) (1366,40) (1386,105) (1371,120) (1324,122)}
\C{6068EC}{(1136,120) (1154,91) (1205,90) (1216,103) (1213,132) (1156,160)}
\C{4463DF}{(1216,103) (1279,72) (1299,67) (1324,122) (1301,189) (1244,181) (1213,132)}
\C{5068E4}{(1324,122) (1371,120) (1393,190) (1301,194)}
\C{5460E0}{(1371,120) (1386,105) (1411,110) (1429,187) (1406,196) (1393,190)}
\C{5B68EC}{(1406,196) (1429,187) (1441,192) (1441,230) (1429,242)}
\C{5060DF}{(1441,192) (1474,204) (1441,230)}
\C{6070F2}{(1304,194) (1393,190) (1406,196) (1429,242) (1337,322) (1301,312) (1294,302)}
\C{4A62E6}{(1244,181) (1304,192) (1294,302) (1256,307) (1204,274) (1194,235) (1199,215)}
\C{5C6AEC}{(1156,160) (1213,132) (1244,181) (1199,217)}
\C{5863E4}{(1131,185) (1156,162) (1199,217) (1194,235) (1161,251) (1140,245)}
\C{6668F0}{(1056,102) (1114,92) (1136,120) (1091,150)}
\C{6D6FF5}{(1091,150) (1136,129) (1156,160) (1131,184) (1091,164)}
\C{7070F8}{(1054,104) (1091,150) (1091,164) (1048,179)}
\C{5E6AEA}{(1048,179) (1091,164) (1131,184) (1140,245) (1091,277) (1046,216)}
\C{6268F2}{(1091,277) (1140,245) (1166,251) (1188,292) (1129,330) (1104,300)}
\C{4C5EDE}{(1161,251) (1194,240) (1204,274) (1188,292)}
\C{5560E0}{(1204,274) (1256,307) (1229,337) (1181,295)}
\C{7274FA}{(1129,330) (1181,295) (1228,337) (1228,367) (1176,396)}
\C{7474FF}{(1228,337) (1256,306) (1301,303) (1311,342) (1256,390) (1228,367)}
\C{6265EE}{(1176,396) (1228,367) (1256,390) (1214,427) (1189,417)}
\C{5C62E8}{(1301,312) (1337,322) (1311,342)}
\C{7086EC}{(836,310) (1045,215) (1096,285) (1099,297) (1081,362) (936,430)}
\C{4F6ADA}{(1099,297) (1176,400) (1111,407) (1081,362)}
\C{4360BF}{(936,430) (1081,362) (1111,407) (1090,500) (1034,545)}
\C{6580EC}{(1111,407) (1173,407) (1184,425) (1194,435) (1129,472) (1090,500)}
\C{4E6CD4}{(1129,472) (1194,432) (1141,487)}
\C{3F5FC6}{(1090,500) (1129,472) (1141,487) (1096,517)}
\C{5570D8}{(1087,506) (1096,517) (1069,537) (1058,530)}
\C{5572D8}{(1039,545) (1059,530) (1080,542) (1056,565)}
\C{2C4AA8}{(1179,405) (1214,427) (1194,437)}
% light blue
\C{80A6FC}{(1119,510) (1236,410) (1274,445) (1246,550) (1234,617) (1173,635)}
\C{8AAEFF}{(1274,445) (1343,419) (1406,455) (1419,480) (1378,629) (1256,655) (1234,617) (1246,550)}
\C{78A4FA}{(1236,410) (1276,375) (1309,380) (1343,419) (1274,445)}
\C{78A6FA}{(1309,372) (1354,327) (1456,406) (1426,452) (1406,455) (1343,419)}
\C{6E9BF0}{(1276,375) (1309,350) (1324,355) (1309,379)}
\C{6A9CEE}{(1309,350) (1345,320) (1354,327) (1324,355)}
\C{5D86E8}{(1426,452) (1456,406) (1484,421) (1497,478) (1445,478) (1419,480)}
\C{70A2F0}{(1406,455) (1426,452) (1442,478) (1419,480)}
\C{5590E8}{(1419,480) (1441,477) (1497,482) (1534,619) (1461,657) (1378,629)}
\C{6097F5}{(1051,567) (1119,510) (1173,635) (1129,655)}
\C{4F8BE0}{(1129,655) (1173,635) (1179,647) (1144,672)}
\C{4F88E2}{(1173,635) (1234,619) (1256,655) (1215,664) (1179,647)}
\C{7DA8F8}{(1144,672) (1176,647) (1215,664) (1215,667) (1179,660) (1154,685)}
\C{5692E8}{(1154,682) (1179,660) (1215,667) (1215,720) (1191,727)}
\C{70A5F5}{(1191,727) (1215,720) (1224,777) (1236,784)}
\C{6FA3FF}{(1215,665) (1378,629) (1391,695) (1321,737) (1222,769) (1215,720)}
\C{6CA2FA}{(1222,769) (1321,737) (1244,784)}
\Sb{75ABFF}{(1378,629) (1419,682) (1391,695)}
\Sb{6A9EF8}{(1378,629) (1461,657) (1419,682)}
\C{70A0E8}{(1419,682) (1461,657) (1534,619) (1561,634) (1561,755) (1449,697) (1429,687) (1389,700)}
\Sb{7EAEF0}{(1534,619) (1561,634) (1561,690) (1539,705) (1514,695)}
\C{7AAEF0}{(1234,784) (1244,784) (1321,737) (1310,770) (1288,845)}
\C{78AEEE}{(1321,737) (1389,700) (1429,686) (1449,697) (1534,784) (1561,806) (1561,884) (1380,953) (1288,845) (1310,770)}
\Sb{5590D0}{(1449,697) (1514,727) (1561,755) (1561,806) (1534,784)}
\C{6A9CE8}{(1379,954) (1454,933) (1406,969) (1406,994) (1419,994) (1439,1029)}
\C{79A4EC}{(1406,969) (1454,933) (1496,973) (1474,999) (1419,994) (1406,979)}
\C{82ACFA}{(1466,929) (1524,908) (1561,954) (1561,964) (1499,966)}
\C{82B4FA}{(1499,968) (1561,964) (1561,1041) (1494,1066) (1484,1034) (1475,999)}
\C{6C9EE4}{(1419,994) (1474,999) (1491,1069) (1479,1071) (1439,1029)}
\C{6D9DE8}{(1454,933) (1466,929) (1499,966) (1496,973)}
\C{88B0F5}{(1524,908) (1561,899) (1561,954)}
\C{3E46C2}{(1479,1071) (1561,1044) (1561,1172)}
\C{2C34A8}{(1504,1064) (1561,1044) (1561,1056) (1514,1066)}
\C{5C60DC}{(1514,1084) (1534,1066) (1561,1074) (1561,1114) (1534,1124)}
\C{4050C0}{(1534,1124) (1561,1114) (1561,1150) (1534,1139)}
\C{70BFE8}{(1509,7) (1561,7) (1561,12) (1514,20)}
\C{90D5FF}{(1514,20) (1561,12) (1561,82) (1527,85)}
\C{88CFF8}{(1527,85) (1561,82) (1561,117) (1534,120)}
\C{98D8FF}{(1534,120) (1561,117) (1561,140) (1539,143)}
\C{5090C0}{(1539,148) (1561,137) (1561,175) (1529,160)}
\C{8BC5FC}{(1464,215) (1529,162) (1561,187) (1561,235) (1491,260) (1476,244)}
\C{5FA9E0}{(1491,260) (1561,235) (1561,293)}
\C{7CB8F0}{(1439,235) (1464,215) (1476,244) (1491,260)}
\C{70B5F0}{(1354,327) (1439,237) (1561,295) (1561,395) (1484,421)}
\C{85BAFF}{(1381,289) (1439,237) (1461,249) (1468,284) (1449,312) (1401,315)}
\C{5FADF0}{(1461,249) (1516,272) (1499,290) (1468,280)}
\C{62A8F0}{(1468,282) (1486,295) (1484,322) (1454,320) (1449,312)}
\C{78BCF5}{(1486,295) (1516,277) (1531,304) (1514,330) (1489,322)}
\C{68B0EA}{(1531,304) (1561,292) (1561,325) (1534,315)}
\C{72B8F0}{(1516,275) (1545,287) (1531,304)}
\C{58A3E0}{(1521,330) (1534,315) (1561,327) (1561,365) (1539,367) (1519,355)}
\C{60A8F5}{(1456,337) (1484,322) (1509,330) (1519,355) (1501,356) (1456,355)}
\C{70B5E8}{(1449,312) (1454,320) (1484,322) (1456,337) (1455,352)}
\C{78B8F5}{(1389,332) (1401,315) (1439,315) (1455,350) (1396,347)}
\C{5CA8EC}{(1381,299) (1401,315) (1389,332) (1371,335)}
\C{60AEF0}{(1356,325) (1381,289) (1381,299) (1371,335)}
\C{88C4FF}{(1396,347) (1455,350) (1461,357) (1451,387) (1394,355)}
\C{90D6FF}{(1461,360) (1501,356) (1499,380) (1475,382)}
\C{55A0EE}{(1515,362) (1539,367) (1546,392) (1524,400) (1514,377)}
\C{68AEE8}{(1501,380) (1514,377) (1524,400) (1499,412)}
\C{88C4FE}{(1451,387) (1475,382) (1501,382) (1499,412) (1484,421)}
\C{5AA0E0}{(1439,382) (1456,362) (1464,370) (1451,387)}
\C{70BBF0}{(1539,367) (1561,365) (1561,395) (1546,392)}
\C{78B4F0}{(1484,421) (1561,395) (1561,487) (1501,487) (1497,482)}
\Sb{6AA6E4}{(1486,425) (1491,440) (1516,450) (1499,462) (1497,480)}
\Sb{8FC9FF}{(1499,462) (1514,450) (1541,465) (1541,487) (1501,487)}
\C{8CCBFF}{(1503,489) (1561,486) (1561,565) (1521,565)}
\C{88C8F8}{(1521,565) (1561,560) (1561,603) (1534,603)}
\C{7ABCEC}{(1534,603) (1561,603) (1561,634) (1534,619)}
% heavier lines
\Ln{1.3pt}{(462,265) (602,234) (715,465)}
\Ln{1.2pt}{(263,865) (594,1436) (621,1484)}
\Ln{1.3pt}{(621,1484) (784,1349) (879,1271)}
\Ln{1.2pt}{(970,1358) (969,1506) (1062,1507)}
\Ln{1.3pt}{(1092,924) (939,1092) (968,1193) (1189,1310)}
\Ln{1.3pt}{(1150,860) (1092,924)}
\Ln{1.2pt}{(894,1276) (968,1193)}
\Ln{1.2pt}{(1189,735) (1184,784) (1179,831) (1329,914)}
\Ln{1.2pt}{(1484,421) (1534,619) (1389,700) (1244,784)}
\Ln{1.2pt}{(1354,327) (1439,237) (1561,295)}
\Ln{1.2pt}{(1354,327) (1484,421) (1561,395)}
\Ln{1.2pt}{(1045,215) (1176,400) (1214,427)}
\Ln{1.2pt}{(1054,102) (1045,215) (836,310)}
\Ln{1.2pt}{(976,7) (1054,102) (1106,7)}
\Ln{1.2pt}{(1380,953) (1561,899)}
\Ln{2pt}{(7,371) (602,233)}
\Ln{2pt}{(178,830) (415,820)}
\Ln{2.1pt}{(415,820) (537,936) (588,984) (645,1034) (710,1077) (801,1196) (879,1271) (1067,1449)}
\Ln{2.1pt}{(906,405) (415,820)}
\Ln{2.5pt}{(1439,1029) (1067,1449) (1059,1561)}
\Ln{3.5pt}{(580,7) (784,255) (836,310) (901,398) (1051,567) (1189,735) (1234,784) (1379,954) (1439,1029) (1561,1174)}
\Ln{3pt}{(1541,148) (1439,235) (1214,427) (1051,567)}
\Ln{2.5pt}{(1509,7) (1541,148)}
\Ln{3.5pt}{(172,7) (7,117)}
\Ln{2.5pt}{(47,7) (28,98)}
\Ln{3pt}{(7,735) (178,830) (7,954)}
\Ln{3.5pt}{(1561,1194) (1326,1561)}
\Ln{2pt}{(1424,1409) (1561,1421)}
\Ln{1.3pt}{(1436,1409) (1459,1451) (1529,1514) (1561,1561)}
\Ln{2.5pt}{(7,1497) (75,1561)}
\Ln{2.5pt}{(46,1536) (22,1561)}
\Ln{7.5pt}{(3.75,3.75) (1564.25,3.75) (1564.25,1564.25) (3.75,1564.25) (3.75,3.75)}
% labels
\T{337}{122}{89}{K05298}\T{336}{525}{57}{K02716}\T{910}{650}{39}{K00549}\T{1264}{536}{46}{K03283}\T{1427}{820}{49}{K04077}\T{167}{1061}{64}{K01623}\T{205}{1315}{58}{K00927}\T{460}{1473}{48}{K00134}\T{1335}{1316}{45}{K01673}\T{481}{1027}{42}{K01602}\T{1299}{1026}{41}{K00799}\T{928}{926}{37}{K01915}\T{651}{768}{40}{K00600}\T{561}{391}{38}{K02717}\T{979}{322}{38}{K02358}\T{957}{155}{33}{K04078}\T{174}{279}{37}{K00855}\T{351}{742}{42}{K08901}\T{86}{490}{32}{K02692}\T{73}{679}{27}{K02693}\T{737}{993}{34}{K00281}\T{864}{1485}{31}{K00434}\T{757}{375}{29}{K02115}\T{568}{608}{26}{K02641}\T{1026}{441}{26}{K03234}\T{1288}{693}{27}{K03798}\T{1455}{586}{23}{K03696}\T{1075}{840}{25}{K01188}\T{1082}{712}{24}{K00789}\T{575}{1234}{31}{K00026}\T{635}{1367}{27}{K14272}\T{1092}{1068}{23}{K03405}\T{1206}{1161}{24}{K06215}\T{730}{1245}{22}{K00284}\T{150}{1516}{22}{K01803}\T{1489}{129}{21}{K02964}\T{1197}{1514}{25}{K03781}\T{1025}{1341}{21}{K00454}\T{756}{69}{22}{K12881}\T{768}{881}{21}{K15893}\T{1506}{682}{20}{K13126}\T{48}{873}{17}{K15040}\T{67}{805}{17}{K05863}\T{892}{41}{17}{K02357}\T{829}{187}{15}{K02355}\T{866}{269}{15}{K17732}\T{75}{36}{12.5}{K14753}\T{40}{230}{14}{K01100}\T{40}{1221}{14}{K03841}\T{415}{1214}{15}{K00382}\T{505}{849}{17.5}{K00384}\T{858}{1188}{18.5}{K00940}\T{1031}{1185}{18.5}{K00218}\T{1186}{1239}{17}{K01845}\T{1161}{926}{20}{K01749}\T{1138}{990}{14}{K00228}\T{747}{627}{17}{K03146}\T{770}{1112}{17}{K13811}\T{733}{1483}{18}{K00975}\T{801}{1386}{17}{K08232}\T{920}{1360}{14}{K10046}\T{987}{1113}{15}{K01599}\T{847}{1112}{12}{K00939}\T{921}{1145}{11.5}{K00856}
\T{865}{404}{11}{K02145}\T{763}{478}{13.5}{K02113}\T{693}{536}{16}{K08915}\T{497}{702}{10}{K03541}\T{186}{729}{17}{K02701}\T{146}{786}{12}{K08902}\T{217}{844}{12}{K00121}\T{655}{1517}{12.5}{K00963}\T{284}{1536}{19}{K01689}\T{26}{1345}{10}{K00161}\T{26}{1446}{10}{K00131}\T{70}{1455}{9}{K00162}\T{54}{1490}{9}{K00128}\T{50}{1415}{6}{K01835}\T{704}{1134}{7}{K00234}\T{731}{1162}{12}{K01679}\T{755}{1348}{9.5}{K00122}\T{728}{1380}{5.5}{K00030}\T{632}{1445}{10.5}{K01681}\T{820}{1281}{13.5}{K00031}\T{872}{1298}{8.5}{K00688}\T{906}{1314}{6.5}{K01858}\T{848}{1324}{7}{K06118}\T{870}{1362}{5}{K15422}\T{28}{769}{10}{K12271}\T{131}{817}{5.5}{K15109}\T{110}{847}{5.5}{K09013}\T{154}{831}{4}{K01533}
\T{611}{80}{8.5}{K08916}\T{610}{143}{6}{K08917}\T{648}{146}{9}{K08909}\T{688}{171}{8.5}{K08914}\T{617}{210}{7}{K08912}\T{647}{199}{6}{K08907}\T{644}{233}{9.5}{K02137}\T{712}{226}{15}{K02150}\T{638}{263}{6.5}{K02136}\T{673}{294}{12.5}{K01507}\T{736}{273}{7.5}{K02148}\T{773}{270}{7.5}{K02138}\T{410}{296}{10}{K08903}\T{366}{302}{6.5}{K02636}\T{331}{305}{7}{K02638}\T{234}{329}{8.5}{K02694}\T{175}{342}{7.5}{K02699}\T{198}{358}{4}{K02698}\T{669}{590}{5.5}{K03542}\T{828}{456}{5}{K03937}\T{750}{523}{5}{K01070}\T{748}{558}{7.5}{K01736}\T{675}{619}{6.5}{K01733}\T{664}{645}{6.5}{K14454}\T{639}{642}{4}{K13832}\T{440}{815}{5.5}{K00207}\T{497}{771}{7.5}{K01955}\T{522}{753}{4}{K13800}\T{562}{938}{4.5}{K01956}\T{572}{960}{4.5}{K00761}\T{596}{901}{9.5}{K00392}\T{645}{920}{9}{K05933}\T{691}{899}{5.5}{K01562}\T{606}{968}{7.5}{K01953}\T{628}{993}{6.5}{K12657}\T{804}{292}{4}{K09934}\T{777}{538}{4.5}{K09314}
\T{810}{516}{10}{K13034}\T{813}{556}{9}{K14455}\T{870}{493}{13.5}{K01237}\T{946}{503}{15}{K01501}\T{883}{445}{7}{K00818}\T{911}{422}{5.5}{K05907}\T{919}{449}{5.5}{K01703}\T{998}{529}{6.5}{K00831}\T{993}{549}{5.5}{K00511}\T{1019}{546}{4.5}{K00911}\T{1045}{608}{11}{K01251}\T{1161}{759}{8.5}{K00058}\T{1161}{806}{7.5}{K10206}\T{995}{777}{13}{K00811}\T{894}{788}{14.5}{K01649}\T{805}{755}{13}{K01738}\T{782}{700}{7.5}{K01850}\T{822}{814}{13}{K01652}\T{956}{814}{5.5}{K01596}\T{1057}{932}{8}{K00765}\T{1078}{969}{8.5}{K03404}\T{1043}{999}{6}{K03403}\T{1029}{980}{4}{K00436}\T{859}{1027}{7}{K00588}\T{904}{1041}{7.5}{K01626}\T{957}{1041}{9}{K00366}\T{847}{1057}{8}{K00872}\T{889}{1074}{6}{K00826}\T{928}{1075}{8}{K00052}\T{818}{1078}{5}{K01530}\T{860}{1081}{5}{K00261}\T{1003}{1061}{10.5}{K03428}\T{1088}{1140}{10.5}{K00231}\T{1129}{1162}{6.5}{K03527}\T{1113}{1199}{8}{K01698}\T{1118}{1254}{8.5}{K00432}\T{970}{1231}{12.5}{K09458}\T{1021}{1236}{7.5}{K05894}\T{1027}{1262}{6.5}{K05929}\T{997}{1269}{5.5}{K10525}\T{966}{1271}{5.5}{K00630}\T{927}{1273}{8.5}{K02160}\T{946}{1303}{9}{K01961}\T{1088}{1284}{14}{K07513}\T{1147}{1298}{5.5}{K01723}\T{1147}{1324}{8}{K01962}\T{1108}{1359}{8.5}{K00208}\T{1063}{1423}{7.5}{K03921}\T{1098}{1397}{4.5}{K01115}\T{939}{1207}{4.5}{K00759}\T{900}{1254}{6}{K01939}\T{1134}{1397}{6.5}{K07304}\T{1098}{1483}{13}{K01802}\T{1496}{1154}{15}{K03564}\T{1428}{1101}{8}{K03386}\T{1394}{1103}{6.5}{K08244}\T{1458}{1077}{7.5}{K08070}\T{1431}{1060}{4.5}{K01462}\T{1316}{1531}{8}{K15925}\T{1282}{1549}{5}{K04564}
\T{1210}{857}{11}{K00383}\T{1268}{861}{6}{K10757}\T{1293}{879}{6}{K01770}\T{1259}{893}{7}{K03526}\T{1234}{916}{6}{K08681}\T{1313}{904}{7}{K03147}\T{1234}{822}{9}{K13066}\T{1196}{802}{5.5}{K12855}\T{1269}{789}{7}{K04043}\T{1170}{1048}{4.5}{K00794}\T{1172}{1089}{6}{K01919}\T{1429}{1031}{4}{K13545}\T{1319}{1151}{4.5}{K13789}\T{1293}{1174}{5}{K00099}\T{1186}{1295}{5.5}{K12502}
\T{1517}{1338}{16.5}{K06630}\T{1448}{1400}{7.5}{K05759}\T{1447}{1421}{7}{K17261}\T{1484}{1418}{6.5}{K15102}\T{1489}{1440}{12}{K17285}\T{1409}{1464}{9}{K07375}\T{1524}{1476}{11}{K17255}\T{1438}{1522}{20}{K10355}\T{1364}{1546}{12}{K05765}\T{1505}{1539}{8.5}{K03531}\T{1539}{1555}{6.5}{K03609}
\T{391}{1115}{5.5}{K00627}\T{395}{1137}{8}{K01810}\T{364}{1164}{5}{K00873}\T{663}{1285}{6}{K01648}\T{992}{1458}{9}{K00297}\T{1046}{1462}{8}{K01938}\T{1021}{1495}{12}{K02437}\T{976}{1528}{7}{K00029}\T{1010}{1544}{9}{K01595}\T{1045}{1534}{6}{K01759}\T{957}{1558}{5}{K01006}\T{608}{1546}{8}{K01783}\T{983}{1388}{6}{K12450}\T{985}{1415}{6.5}{K12451}\T{1022}{1424}{6}{K12449}\T{953}{1399}{6.5}{K01103}\T{956}{1418}{5.5}{K01051}\T{56}{1524}{5.5}{K18121}\T{108}{1553}{5.5}{K16871}\T{22}{1532}{7}{K09489}\T{46}{1556}{6.5}{K09571}
\T{653}{42}{14}{K03257}\T{833}{15}{7}{K03249}\T{736}{162}{9}{K03246}\T{780}{155}{6}{K03248}\T{750}{197}{5}{K03238}\T{765}{210}{5}{K03260}\T{793}{245}{5.5}{K17080}\T{816}{273}{4}{K17081}\T{819}{253}{4}{K02519}\T{914}{267}{4}{K03687}\T{1013}{19}{10}{K14563}\T{1057}{42}{10}{K07936}\T{1129}{25}{10}{K02932}\T{1209}{17}{13.5}{K02977}\T{1263}{17}{8}{K02979}\T{1315}{27}{13}{K02961}\T{1365}{15}{7}{K02958}\T{1466}{19}{8}{K02866}\T{1415}{54}{14}{K02939}\T{1491}{57}{8}{K02953}\T{1093}{77}{8}{K02989}\T{1128}{62}{4.5}{K02981}\T{1174}{65}{12}{K02899}\T{1240}{66}{12}{K02868}\T{1134}{90}{7.5}{K02896}\T{1097}{117}{9}{K02959}\T{1177}{119}{12.5}{K02871}\T{1342}{85}{13}{K02876}\T{1267}{129}{16}{K02935}\T{1201}{171}{11.5}{K02873}\T{1348}{163}{13}{K02926}\T{1400}{148}{7.5}{K02867}\T{1068}{147}{7}{K02978}\T{1122}{157}{9.5}{K02949}\T{1089}{211}{14}{K02940}\T{1164}{215}{9.5}{K02894}\T{1247}{243}{17}{K02933}\T{1355}{241}{20}{K02945}\T{1429}{209}{4.5}{K02915}\T{1454}{210}{4.5}{K02883}\T{1136}{284}{13}{K02991}\T{1183}{262}{5.5}{K02938}\T{1218}{303}{7.5}{K02925}\T{1183}{343}{13}{K02893}\T{1268}{342}{12.5}{K02998}\T{1213}{397}{10}{K02996}\T{1316}{327}{4}{K02885}
\T{1117}{363}{11}{K02838}\T{1132}{441}{10}{K03263}\T{1159}{461}{4}{K02434}\T{1120}{494}{5}{K01881}\T{1087}{520}{4}{K01885}\T{1071}{533}{4.5}{K04567}\T{1056}{549}{5}{K01872}\T{1117}{596}{12}{K03768}\T{1188}{695}{9}{K03671}\T{1383}{392}{14.5}{K04079}\T{1299}{371}{5.5}{K01280}\T{1460}{453}{10}{K03695}\T{1425}{468}{3.5}{K09493}\T{1527}{445}{13}{K01358}\T{1535}{519}{9}{K01265}\T{1544}{582}{6}{K08245}\T{1427}{282}{12}{K03063}\T{1484}{271}{6.5}{K03061}\T{1471}{303}{5.5}{K02725}\T{1506}{306}{8}{K02726}\T{1546}{310}{6.5}{K03066}\T{1421}{336}{10}{K02730}\T{1389}{323}{5}{K02732}\T{1366}{315}{4}{K03031}\T{1457}{322}{5.5}{K02727}\T{1484}{345}{9}{K02729}\T{1541}{343}{7.5}{K03065}\T{1431}{360}{9}{K02731}\T{1488}{368}{8.5}{K03029}\T{1532}{376}{5.5}{K02728}\T{1478}{394}{8}{K02738}\T{1516}{397}{5}{K02737}\T{1516}{219}{16}{K09490}\T{1535}{261}{10}{K03106}\T{1541}{43}{8.5}{K11251}\T{1444}{974}{13}{K13525}\T{1518}{941}{12.5}{K09580}\T{1520}{1008}{14}{K09487}\T{1462}{1027}{6.5}{K09584}\T{1541}{1059}{5.5}{K09578}\T{1539}{1092}{10}{K14944}\T{21}{55}{6}{K14496}\T{33}{15}{5}{K08738}\T{1547}{126}{5}{K10838}\T{1550}{163}{5.5}{K03178}\T{1550}{142}{4}{K04302}
\end{axis}
\end{tikzpicture}
\end{document}
